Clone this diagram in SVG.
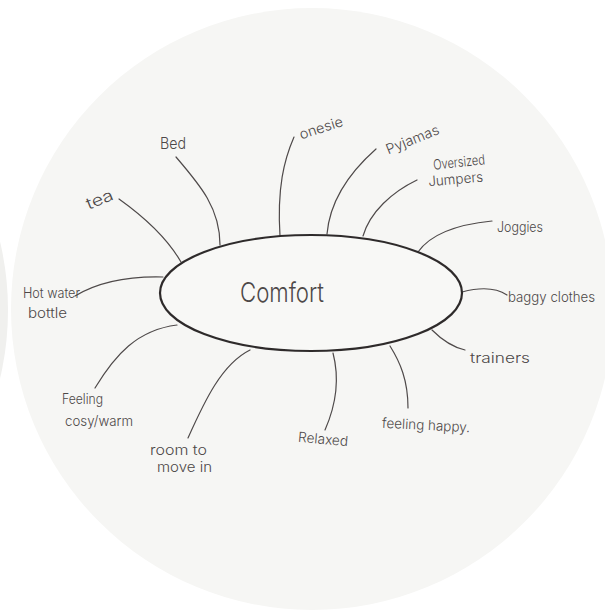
<svg xmlns="http://www.w3.org/2000/svg" width="605" height="610" viewBox="0 0 605 610">
  <style>
    .lbl { font-family: "Inter", "Liberation Sans", "DejaVu Sans", sans-serif; font-weight: 300; font-size: 14px; fill: #4d4848; }
    .big { font-size: 27px; }
    .mid { font-size: 16px; }
    .wire { fill: none; stroke: #4f4a4a; stroke-width: 1.2; stroke-linecap: round; }
  </style>
  <defs>
    <filter id="soft" x="-5%" y="-5%" width="110%" height="110%">
      <feGaussianBlur stdDeviation="0.45"/>
    </filter>
  </defs>

  <!-- backdrop and paper discs -->
  <rect width="605" height="610" fill="#ffffff"/>
  <circle cx="-290" cy="310" r="298" fill="#f0f0ee"/>
  <circle cx="312" cy="309" r="301" fill="#f6f6f4"/>

  <!-- connectors from the central oval to each idea -->
  <g id="connectors" filter="url(#soft)">
    <path class="wire" d="M176,157 C200,185 220,208 220,245"/>
    <path class="wire" d="M119,199 C140,214 166,236 181,262"/>
    <path class="wire" d="M294,137 C284,160 277,188 280,236"/>
    <path class="wire" d="M376,149 C350,172 330,200 327,234"/>
    <path class="wire" d="M417,180 C392,192 370,212 363,236"/>
    <path class="wire" d="M492,221 C462,224 432,232 418,252"/>
    <path class="wire" d="M462,292 C477,288 495,287 507,295"/>
    <path class="wire" d="M432,330 C442,340 452,347 465,350"/>
    <path class="wire" d="M390,346 C400,362 408,380 408,408"/>
    <path class="wire" d="M333,353 C340,380 336,405 325,430"/>
    <path class="wire" d="M250,350 C222,364 205,400 188,438"/>
    <path class="wire" d="M177,325 C137,330 115,355 95,388"/>
    <path class="wire" d="M75,296 C95,284 125,276 163,277"/>
  </g>

  <!-- central idea -->
  <g id="node-comfort">
    <ellipse cx="311" cy="293" rx="151" ry="58" fill="#f8f8f6" stroke="#2f2c2c" stroke-width="2.2" filter="url(#soft)"/>
    <text class="lbl big" x="240" y="302" textLength="84" lengthAdjust="spacingAndGlyphs">Comfort</text>
  </g>

  <!-- surrounding ideas -->
  <g id="node-bed">
    <text class="lbl mid" x="160" y="149" textLength="26" lengthAdjust="spacingAndGlyphs">Bed</text>
  </g>
  <g id="node-tea">
    <text class="lbl mid" x="85" y="205" textLength="28" lengthAdjust="spacingAndGlyphs" transform="rotate(-22 99 198)">tea</text>
  </g>
  <g id="node-onesie">
    <text class="lbl" x="298" y="133" textLength="45" lengthAdjust="spacingAndGlyphs" transform="rotate(-18 320 126)">onesie</text>
  </g>
  <g id="node-pyjamas">
    <text class="lbl" x="383" y="145" textLength="56" lengthAdjust="spacingAndGlyphs" transform="rotate(-22 410 136)">Pyjamas</text>
  </g>
  <g id="node-jumpers">
    <text class="lbl" x="433" y="167" textLength="52" lengthAdjust="spacingAndGlyphs" transform="rotate(-6 459 162)">Oversized</text>
    <text class="lbl" x="428" y="184" textLength="55" lengthAdjust="spacingAndGlyphs" transform="rotate(-5 455 178)">Jumpers</text>
  </g>
  <g id="node-joggies">
    <text class="lbl" x="497" y="232" textLength="46" lengthAdjust="spacingAndGlyphs">Joggies</text>
  </g>
  <g id="node-baggy">
    <text class="lbl" x="508" y="302" textLength="87" lengthAdjust="spacingAndGlyphs">baggy clothes</text>
  </g>
  <g id="node-trainers">
    <text class="lbl" x="470" y="363" textLength="60" lengthAdjust="spacingAndGlyphs">trainers</text>
  </g>
  <g id="node-happy">
    <text class="lbl" x="382" y="430" textLength="88" lengthAdjust="spacingAndGlyphs" transform="rotate(3 426 426)">feeling happy.</text>
  </g>
  <g id="node-relaxed">
    <text class="lbl" x="298" y="444" textLength="50" lengthAdjust="spacingAndGlyphs" transform="rotate(5 323 440)">Relaxed</text>
  </g>
  <g id="node-room">
    <text class="lbl" x="150" y="455" textLength="57" lengthAdjust="spacingAndGlyphs">room to</text>
    <text class="lbl" x="157" y="472" textLength="55" lengthAdjust="spacingAndGlyphs">move in</text>
  </g>
  <g id="node-cosy">
    <text class="lbl" x="62" y="404" textLength="41" lengthAdjust="spacingAndGlyphs">Feeling</text>
    <text class="lbl" x="65" y="426" textLength="68" lengthAdjust="spacingAndGlyphs">cosy/warm</text>
  </g>
  <g id="node-bottle">
    <text class="lbl" x="23" y="298" textLength="57" lengthAdjust="spacingAndGlyphs">Hot water</text>
    <text class="lbl" x="28" y="318" textLength="39" lengthAdjust="spacingAndGlyphs">bottle</text>
  </g>
</svg>
